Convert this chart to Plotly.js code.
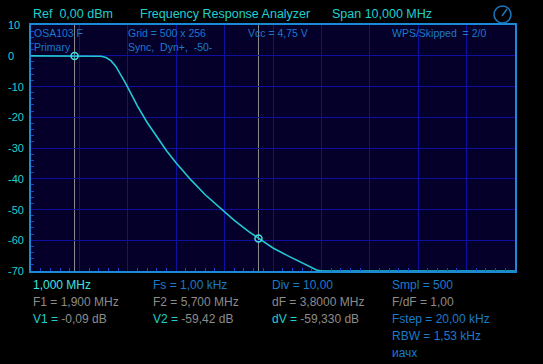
<!DOCTYPE html>
<html><head><meta charset="utf-8">
<script src="https://cdn.plot.ly/plotly-3.0.1.min.js"></script>
<style>html,body{margin:0;padding:0;background:#000;}#c{width:543px;height:364px;}</style>
</head><body><div id="c"></div>
<script>
// Frequency (MHz) and response (dB)
var freqMHz = [1.0, 1.5, 2.0, 2.3, 2.45, 2.55, 2.65, 2.75, 2.85, 2.95, 3.05, 3.2, 3.4, 3.6, 3.8, 4.0, 4.3, 4.6, 4.9, 5.2, 5.5, 5.7, 6.0, 6.3, 6.6, 6.9, 7.0, 8.0, 9.0, 10.0, 11.0];
var respDb  = [-0.05, -0.05, -0.07, -0.09, -0.15, -0.6, -1.6, -3.4, -5.9, -8.8, -11.8, -16.4, -21.7, -26.5, -30.9, -34.9, -40.3, -45.2, -49.5, -53.5, -57.2, -59.42, -62.5, -65.0, -67.3, -69.7, -70, -70, -70, -70, -70];
// markers
var markerF = [1.9, 5.7];
var markerV = [-0.09, -59.42];
// y tick labels
var yTickVals = [10, 0, -10, -20, -30, -40, -50, -60, -70];
var yTickText = ['10', '0', '-10', '-20', '-30', '-40', '-50', '-60', '-70'];

var L = 31, R = 515, T = 25, B = 271, W = 543, H = 364;
function px(x){ return (x - L) / (R - L); }
function py(y){ return (B - y) / (B - T); }

var CYAN = '#1fd0d0', BLUE = '#1a7acc', GRAY = '#8c8c8c', LCYAN = '#3fe3e3';
var FONT = 'Liberation Sans, Arial, sans-serif';

var ann = [];
function txt(x, y, s, color, size){
  ann.push({xref:'paper', yref:'paper', x:px(x), y:py(y), xanchor:'left', yanchor:'middle',
    text:s, showarrow:false, font:{family:FONT, size:size||12, color:color}});
}
// header
txt(31, 14, 'Ref  0,00 dBm', CYAN, 12.5);
txt(138, 14, 'Frequency Response Analyzer', CYAN, 12.5);
txt(330, 14, 'Span 10,000 MHz', CYAN, 12.5);
// y tick labels (left aligned)
for (var i = 0; i < yTickVals.length; i++){
  ann.push({xref:'paper', yref:'y', x:px(6), y:yTickVals[i], xanchor:'left', yanchor:'middle',
    text:yTickText[i], showarrow:false, font:{family:FONT, size:11, color:CYAN}});
}
// inner info
txt(32, 33, 'OSA103 F', BLUE, 10.5);
txt(32, 47, 'Primary', BLUE, 10.5);
txt(126, 33, 'Grid = 500 x 256', BLUE, 10.5);
txt(126, 47, 'Sync,  Dyn+,  -50-', BLUE, 10.5);
txt(246, 33, 'Vcc = 4,75 V', BLUE, 10.5);
txt(390, 33, 'WPS/Skipped  = 2/0', BLUE, 10.5);
// bottom info
function g(s){ return '<span style="color:' + GRAY + '">' + s + '</span>'; }
var FS = 12;
txt(31, 285, '1,000 MHz', LCYAN, FS);
txt(151, 285, 'Fs = 1,00 kHz', BLUE, FS);
txt(270, 285, 'Div = 10,00', BLUE, FS);
txt(390, 285, 'Smpl = 500', BLUE, FS);
txt(31, 302, 'F1 = 1,900 MHz', GRAY, FS);
txt(151, 302, 'F2 = 5,700 MHz', GRAY, FS);
txt(270, 302, 'dF = 3,8000 MHz', GRAY, FS);
txt(390, 302, 'F/dF = 1,00', GRAY, FS);
txt(31, 319, 'V1 = ' + g('-0,09 dB'), CYAN, FS);
txt(151, 319, 'V2 = ' + g('-59,42 dB'), CYAN, FS);
txt(270, 319, 'dV = ' + g('-59,330 dB'), CYAN, FS);
txt(390, 319, 'Fstep = 20,00 kHz', BLUE, FS);
txt(390, 336, 'RBW = 1,53 kHz', BLUE, FS);
txt(390, 353, 'иачх', BLUE, FS);

var shapes = [];
for (var k = 0; k < markerF.length; k++){
  shapes.push({type:'line', xref:'x', yref:'paper', x0:markerF[k], x1:markerF[k], y0:0, y1:1,
    line:{color:'#8e8e8e', width:1}, layer:'below'});
}
// gauge icon
shapes.push({type:'circle', xref:'paper', yref:'paper', x0:px(494), x1:px(511), y0:py(23), y1:py(6),
  line:{color:'#1a78c0', width:1.5}});
shapes.push({type:'line', xref:'paper', yref:'paper', x0:px(502), x1:px(507), y0:py(16), y1:py(9),
  line:{color:'#1a78c0', width:1.5}});

var data = [
  {x:freqMHz, y:respDb, type:'scatter', mode:'lines', line:{color:'#22c8d2', width:1.6}, hoverinfo:'skip', cliponaxis:false},
  {x:markerF, y:markerV, type:'scatter', mode:'markers', marker:{symbol:'circle-open', size:7, color:'#40e0e0', line:{width:1.5}}, cliponaxis:false}
];

var layout = {
  width:W, height:H,
  margin:{l:L, r:W-R, t:T, b:H-B, pad:0},
  paper_bgcolor:'#000000', plot_bgcolor:'#04002a',
  showlegend:false,
  xaxis:{range:[1, 11], dtick:1, tick0:1, showticklabels:false, ticks:'', zeroline:false,
    showgrid:true, gridcolor:'#1010a0', gridwidth:1,
    showline:true, mirror:true, linecolor:'#1a8ad8', linewidth:2,
    minor:{dtick:0.2, tick0:1, ticks:'inside', ticklen:3, tickcolor:'#1a40d0', showgrid:false}},
  yaxis:{range:[-70, 10], dtick:10, tick0:0, showticklabels:false, ticks:'', zeroline:false,
    showgrid:true, gridcolor:'#1010a0', gridwidth:1,
    showline:true, mirror:true, linecolor:'#1a8ad8', linewidth:2,
    minor:{dtick:2, tick0:0, ticks:'inside', ticklen:3, tickcolor:'#1a40d0', showgrid:false}},
  annotations:ann, shapes:shapes
};
Plotly.newPlot('c', data, layout, {staticPlot:true, displayModeBar:false});
</script></body></html>
